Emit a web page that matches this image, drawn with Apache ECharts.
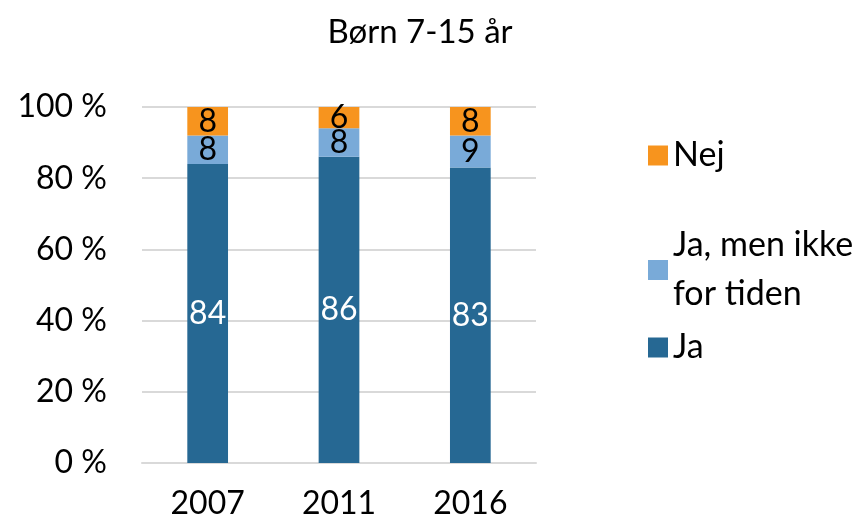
<!DOCTYPE html>
<html><head><meta charset="utf-8">
<script src="https://cdn.jsdelivr.net/npm/echarts@6/dist/echarts.min.js"></script>
<style>html,body{margin:0;padding:0;background:#fff}#c{width:865px;height:525px}</style>
</head><body><div id="c"></div>
<script>
const categories = ['2007', '2011', '2016'];
const ja = [84, 86, 83];
const jaMenIkke = [8, 8, 9];
const nej = [8, 6, 8];
const yTicks = [0, 20, 40, 60, 80, 100];

const FONT = 'Lato';
const FS = 32;
const chart = echarts.init(document.getElementById('c'));
const lbl = (color) => ({show: true, position: 'inside', color: color, fontSize: FS, fontFamily: FONT});
const legendBase = {orient: 'vertical', left: 643, itemWidth: 20, itemHeight: 20, itemGap: 0,
  textStyle: {fontSize: 34, fontFamily: FONT, color: '#000', lineHeight: 49}, selectedMode: false, icon: 'rect'};
chart.setOption({
  animation: false,
  title: {text: 'Børn 7-15 år', left: 415, top: 11, textAlign: 'center',
    textStyle: {fontSize: 33, fontWeight: 'normal', fontFamily: FONT, color: '#000'}},
  grid: {left: 142, top: 107, width: 394, height: 356},
  legend: [
    Object.assign({}, legendBase, {top: 126, data: ['Nej']}),
    Object.assign({}, legendBase, {top: 216, data: ['Ja, men ikke\nfor tiden']}),
    Object.assign({}, legendBase, {top: 318, data: ['Ja']})
  ],
  xAxis: {type: 'category', data: categories,
    axisLine: {lineStyle: {color: '#d9d9d9', width: 2}}, axisTick: {show: false},
    axisLabel: {fontSize: FS, fontFamily: FONT, color: '#000', margin: 25}},
  yAxis: {type: 'value', min: 0, max: 100, interval: 20,
    axisLabel: {fontSize: FS, fontFamily: FONT, color: '#000', margin: 35,
      formatter: v => yTicks.includes(v) ? v + ' %' : ''},
    splitLine: {lineStyle: {color: '#d9d9d9', width: 2}}, axisLine: {show: false}, axisTick: {show: false}},
  series: [
    {name: 'Ja', type: 'bar', stack: 's', data: ja, barWidth: '31%', itemStyle: {color: '#266893'}, label: lbl('#fff')},
    {name: 'Ja, men ikke\nfor tiden', type: 'bar', stack: 's', data: jaMenIkke, itemStyle: {color: '#79aad8'}, label: lbl('#000')},
    {name: 'Nej', type: 'bar', stack: 's', data: nej, itemStyle: {color: '#f7941e'}, label: lbl('#000')}
  ]
});
</script></body></html>
